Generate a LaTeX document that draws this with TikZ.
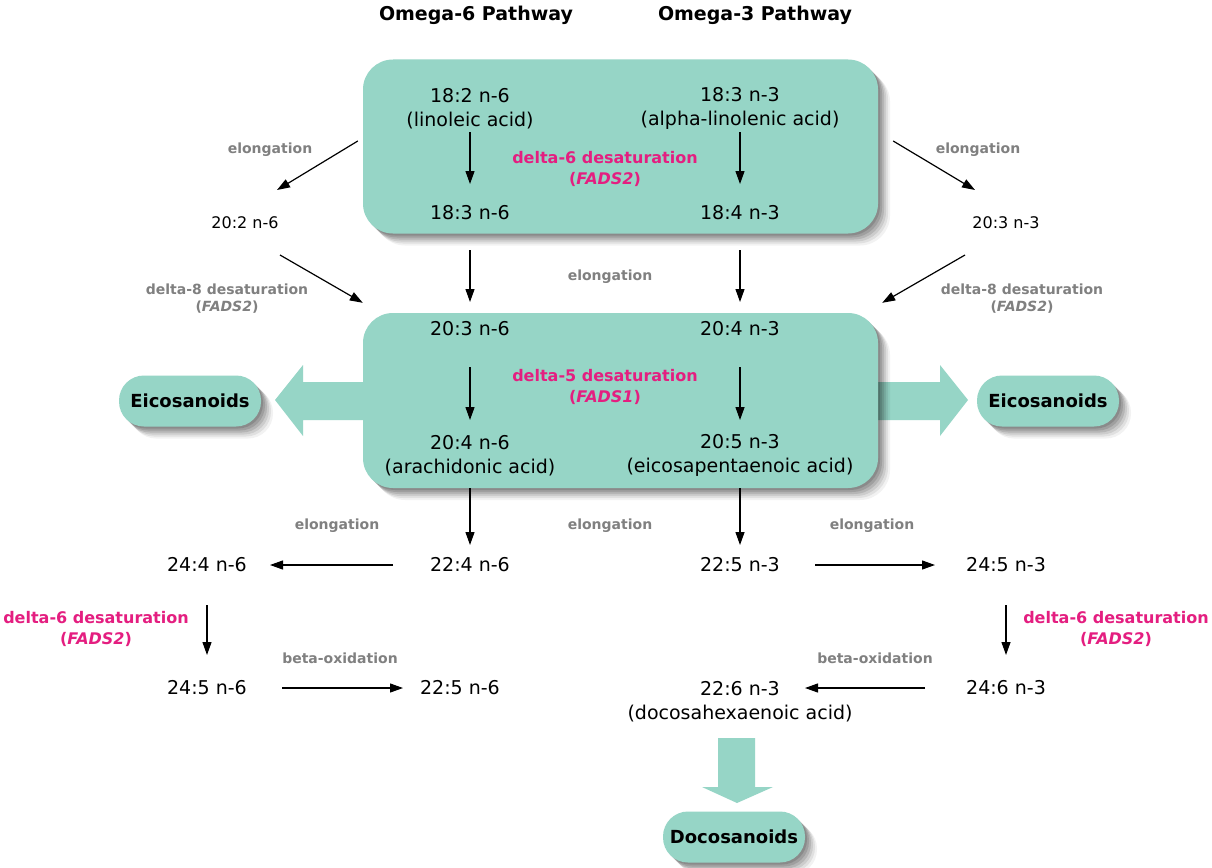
\documentclass[tikz,border=0pt]{standalone}
\usepackage{fontspec}
\setmainfont{DejaVu Sans}
\usetikzlibrary{arrows.meta,shadows}
\definecolor{teal1}{RGB}{150,213,198}
\definecolor{pinkc}{RGB}{228,30,128}
\definecolor{grayc}{RGB}{128,128,128}
\tikzset{
  lbl/.style={font=\fontsize{19}{24}\selectfont, inner sep=0pt, align=center},
  slbl/.style={font=\fontsize{16}{20}\selectfont, inner sep=0pt},
  grl/.style={font=\bfseries\fontsize{14}{17}\selectfont, text=grayc, inner sep=0pt, align=center},
  pkl/.style={font=\bfseries\fontsize{16}{21}\selectfont, text=pinkc, inner sep=0pt, align=center},
  ttl/.style={font=\bfseries\fontsize{19}{23}\selectfont, inner sep=0pt},
  arr/.style={-{Triangle[length=13pt,width=9pt]}, line width=1.2pt},
  shd/.style={
    general shadow={fill=black, opacity=.12, shadow xshift=2pt, shadow yshift=-2pt},
    general shadow={fill=black, opacity=.12, shadow xshift=4pt, shadow yshift=-4pt},
    general shadow={fill=black, opacity=.11, shadow xshift=6pt, shadow yshift=-6pt},
    general shadow={fill=black, opacity=.09, shadow xshift=8pt, shadow yshift=-8pt},
    general shadow={fill=black, opacity=.07, shadow xshift=10pt, shadow yshift=-10pt},
    general shadow={fill=black, opacity=.05, shadow xshift=12pt, shadow yshift=-12pt}},
  bigbox/.style={draw=none, fill=teal1, rounded corners=30pt, minimum width=515pt, minimum height=174pt, shd},
  pill/.style={fill=teal1, rounded corners=25pt, minimum width=142pt, minimum height=51pt, inner sep=0pt, font=\bfseries\fontsize{18}{22}\selectfont, shd},
  bigarr/.style={fill=teal1, draw=none}
}
\begin{document}
\begin{tikzpicture}[x=1pt,y=-1pt]
\useasboundingbox[fill=white] (0,0) rectangle (1212,867);

% titles
\node[ttl] (t6) at (476,15) {Omega-6 Pathway};
\node[ttl] (t3) at (755,15) {Omega-3 Pathway};

% big side arrows (behind box B)
\fill[bigarr] (390,382) -- (303,382) -- (303,365) -- (275,400) -- (303,436) -- (303,420) -- (390,420) -- cycle;
\fill[bigarr] (850,382) -- (940,382) -- (940,365) -- (968,400) -- (940,436) -- (940,420) -- (850,420) -- cycle;
% big down arrow
\fill[bigarr] (718,738) -- (755,738) -- (755,787) -- (773,787) -- (737,803) -- (702,787) -- (718,787) -- cycle;

% boxes
\node[bigbox] (boxA) at (620.5,146.5) {};
\node[bigbox, minimum height=175pt] (boxB) at (620.5,400.5) {};

% pills
\node[pill] (eicL) at (190,401) {Eicosanoids};
\node[pill] (eicR) at (1048,401) {Eicosanoids};
\node[pill] (doco) at (734,837) {Docosanoids};

% box A contents
\node[lbl] (a1) at (470,108.5) {18:2 n-6\\(linoleic acid)};
\node[lbl] (a2) at (740,108.5) {18:3 n-3\\(alpha-linolenic acid)};
\node[lbl] (a3) at (470,213) {18:3 n-6};
\node[lbl] (a4) at (740,213) {18:4 n-3};
\node[pkl] (d6) at (605,168.5) {delta-6 desaturation\\(\textit{FADS2})};
\draw[arr, shorten <=23.5pt, shorten >=29pt] (a1.center) -- (a3.center);
\draw[arr, shorten <=23.5pt, shorten >=29pt] (a2.center) -- (a4.center);

% between boxes
\node[grl] (eA) at (610,277) {elongation};

% box B contents
\node[lbl] (b1) at (470,329) {20:3 n-6};
\node[lbl] (b2) at (740,329) {20:4 n-3};
\node[pkl] (d5) at (605,387) {delta-5 desaturation\\(\textit{FADS1})};
\node[lbl] (b3) at (470,455.5) {20:4 n-6\\(arachidonic acid)};
\node[lbl] (b4) at (740,455.5) {20:5 n-3\\(eicosapentaenoic acid)};
\draw[arr, shorten <=37pt, shorten >=27pt] (a3.center) -- (b1.center);
\draw[arr, shorten <=37pt, shorten >=27pt] (a4.center) -- (b2.center);
\draw[arr, shorten <=38pt, shorten >=35.5pt] (b1.center) -- (b3.center);
\draw[arr, shorten <=38pt, shorten >=35.5pt] (b2.center) -- (b4.center);

% left side
\node[grl] (eL1) at (270,150) {elongation};
\node[slbl] (l1) at (245,223) {20:2 n-6};
\node[grl] (dl8) at (227,298.5) {delta-8 desaturation\\(\textit{FADS2})};
\draw[arr] ([shift={(-5,-5.5)}]boxA.west) -- ([shift={(32,-33)}]l1.center);
\draw[arr] ([shift={(35,32)}]l1.center) -- ([shift={(0,-10)}]boxB.north west);

% right side
\node[grl] (eR1) at (978,150) {elongation};
\node[slbl] (r1) at (1006,223) {20:3 n-3};
\node[grl] (dr8) at (1022,298.5) {delta-8 desaturation\\(\textit{FADS2})};
\draw[arr] ([shift={(15,-5.5)}]boxA.east) -- ([shift={(-31,-33)}]r1.center);
\draw[arr] ([shift={(-41,32)}]r1.center) -- ([shift={(4,-10)}]boxB.north east);

% lower rows
\node[grl] (eC1) at (337,526) {elongation};
\node[grl] (eC2) at (610,526) {elongation};
\node[grl] (eC3) at (872,526) {elongation};
\node[lbl] (c1) at (207,565) {24:4 n-6};
\node[lbl] (c2) at (470,565) {22:4 n-6};
\node[lbl] (c3) at (740,565) {22:5 n-3};
\node[lbl] (c4) at (1006,565) {24:5 n-3};
\draw[arr, shorten <=32.5pt, shorten >=20pt] (b3.center) -- (c2.center);
\draw[arr, shorten <=32.5pt, shorten >=20pt] (b4.center) -- (c3.center);
\draw[arr, shorten <=77pt, shorten >=63pt] (c2.center) -- (c1.center);
\draw[arr, shorten <=75pt, shorten >=71pt] (c3.center) -- (c4.center);

\node[pkl] (pl) at (96,628.5) {delta-6 desaturation\\(\textit{FADS2})};
\node[pkl] (pr) at (1116,628.5) {delta-6 desaturation\\(\textit{FADS2})};
\node[grl] (bL) at (340,658) {beta-oxidation};
\node[grl] (bR) at (875,658) {beta-oxidation};
\node[lbl] (d1) at (207,688) {24:5 n-6};
\node[lbl] (d2) at (460,688) {22:5 n-6};
\node[lbl] (d3) at (740,701.5) {22:6 n-3\\(docosahexaenoic acid)};
\node[lbl] (d4) at (1006,688) {24:6 n-3};
\draw[arr, shorten <=40pt, shorten >=33pt] (c1.center) -- (d1.center);
\draw[arr, shorten <=40pt, shorten >=33pt] (c4.center) -- (d4.center);
\draw[arr, shorten <=75pt, shorten >=57pt] (d1.center) -- (d2.center);
\draw[arr, shorten <=81pt, shorten >=65pt] (d4.center) -- (d4.center -| d3.center);
\end{tikzpicture}
\end{document}
